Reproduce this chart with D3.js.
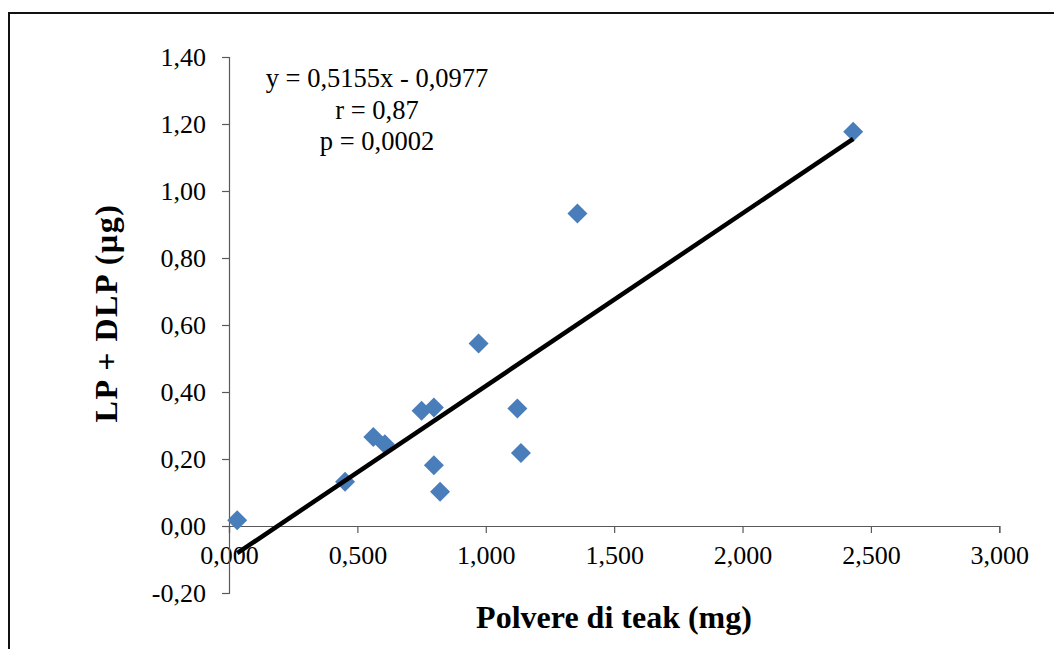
<!DOCTYPE html>
<html><head><meta charset="utf-8">
<script src="https://cdn.jsdelivr.net/npm/d3@7"></script>
<style>
html,body{margin:0;padding:0;background:#fff;}
svg{display:block;}
</style>
</head><body>
<svg id="chart" width="1054" height="649"></svg>
<script>
// Data
const xValues = [0.032, 0.452, 0.562, 0.607, 0.750, 0.798, 0.798, 0.822, 0.972, 1.123, 1.137, 1.357, 2.431];
const yValues = [0.017, 0.132, 0.266, 0.244, 0.344, 0.354, 0.181, 0.102, 0.545, 0.351, 0.218, 0.933, 1.177];
const xTicks = [0, 0.5, 1.0, 1.5, 2.0, 2.5, 3.0];
const yTicks = [-0.2, 0, 0.2, 0.4, 0.6, 0.8, 1.0, 1.2, 1.4];
const slope = 0.5155, intercept = -0.0977;
const annotation = ["y = 0,5155x - 0,0977", "r = 0,87", "p = 0,0002"];
const xTitle = "Polvere di teak (mg)";
const yTitle = "LP + DLP (µg)";

const svg = d3.select("#chart");
const font = "'Liberation Serif','Times New Roman',serif";

// outer border
svg.append("rect").attr("x", 9).attr("y", 13).attr("width", 1100).attr("height", 700)
  .attr("fill", "none").attr("stroke", "#111").attr("stroke-width", 2);

const x = d3.scaleLinear().domain([0, 3]).range([229, 999.3]);
const y = d3.scaleLinear().domain([-0.2, 1.4]).range([593, 57]);

const fmt = (d, n) => d.toFixed(n).replace(".", ",");

// X axis at y=0
const xAxis = svg.append("g").attr("transform", `translate(0,${y(0)})`)
  .call(d3.axisBottom(x).tickValues(xTicks).tickSize(7).tickPadding(13).tickFormat(d => fmt(d, 3)));
// Y axis at x=0
const yAxis = svg.append("g").attr("transform", `translate(${x(0)},0)`)
  .call(d3.axisLeft(y).tickValues(yTicks).tickSize(7).tickPadding(16).tickFormat(d => fmt(d, 2)));

[xAxis, yAxis].forEach(a => {
  a.select(".domain").attr("stroke", "#595959").attr("stroke-width", 1.2);
  a.selectAll(".tick line").attr("stroke", "#595959").attr("stroke-width", 1.2);
  a.selectAll(".tick text").attr("fill", "#000").style("font-family", font).style("font-size", "26px");
});

// markers
svg.append("g").selectAll("path").data(xValues.map((v, i) => [v, yValues[i]])).join("path")
  .attr("d", d3.symbol(d3.symbolSquare, 200)())
  .attr("transform", d => `translate(${x(d[0])},${y(d[1])}) rotate(45)`)
  .attr("fill", "#4a7ebb");

// trendline
const xmin = d3.min(xValues), xmax = d3.max(xValues);
svg.append("line")
  .attr("x1", x(xmin)).attr("y1", y(slope * xmin + intercept))
  .attr("x2", x(xmax)).attr("y2", y(slope * xmax + intercept))
  .attr("stroke", "#000").attr("stroke-width", 4.5);

// annotation
const ann = svg.append("text").attr("text-anchor", "middle")
  .style("font-family", font).style("font-size", "26.5px").attr("fill", "#000");
annotation.forEach((t, i) => {
  ann.append("tspan").attr("x", 377).attr("y", 87 + i * 31.5).text(t);
});

// axis titles
svg.append("text").attr("x", 614).attr("y", 628).attr("text-anchor", "middle")
  .style("font-family", font).style("font-size", "32px").style("font-weight", "bold").text(xTitle);
svg.append("text").attr("transform", "translate(117,313) rotate(-90)").attr("text-anchor", "middle")
  .style("font-family", font).style("font-size", "32px").style("font-weight", "bold")
  .style("letter-spacing", "1.5px").text(yTitle);
</script>
</body></html>
